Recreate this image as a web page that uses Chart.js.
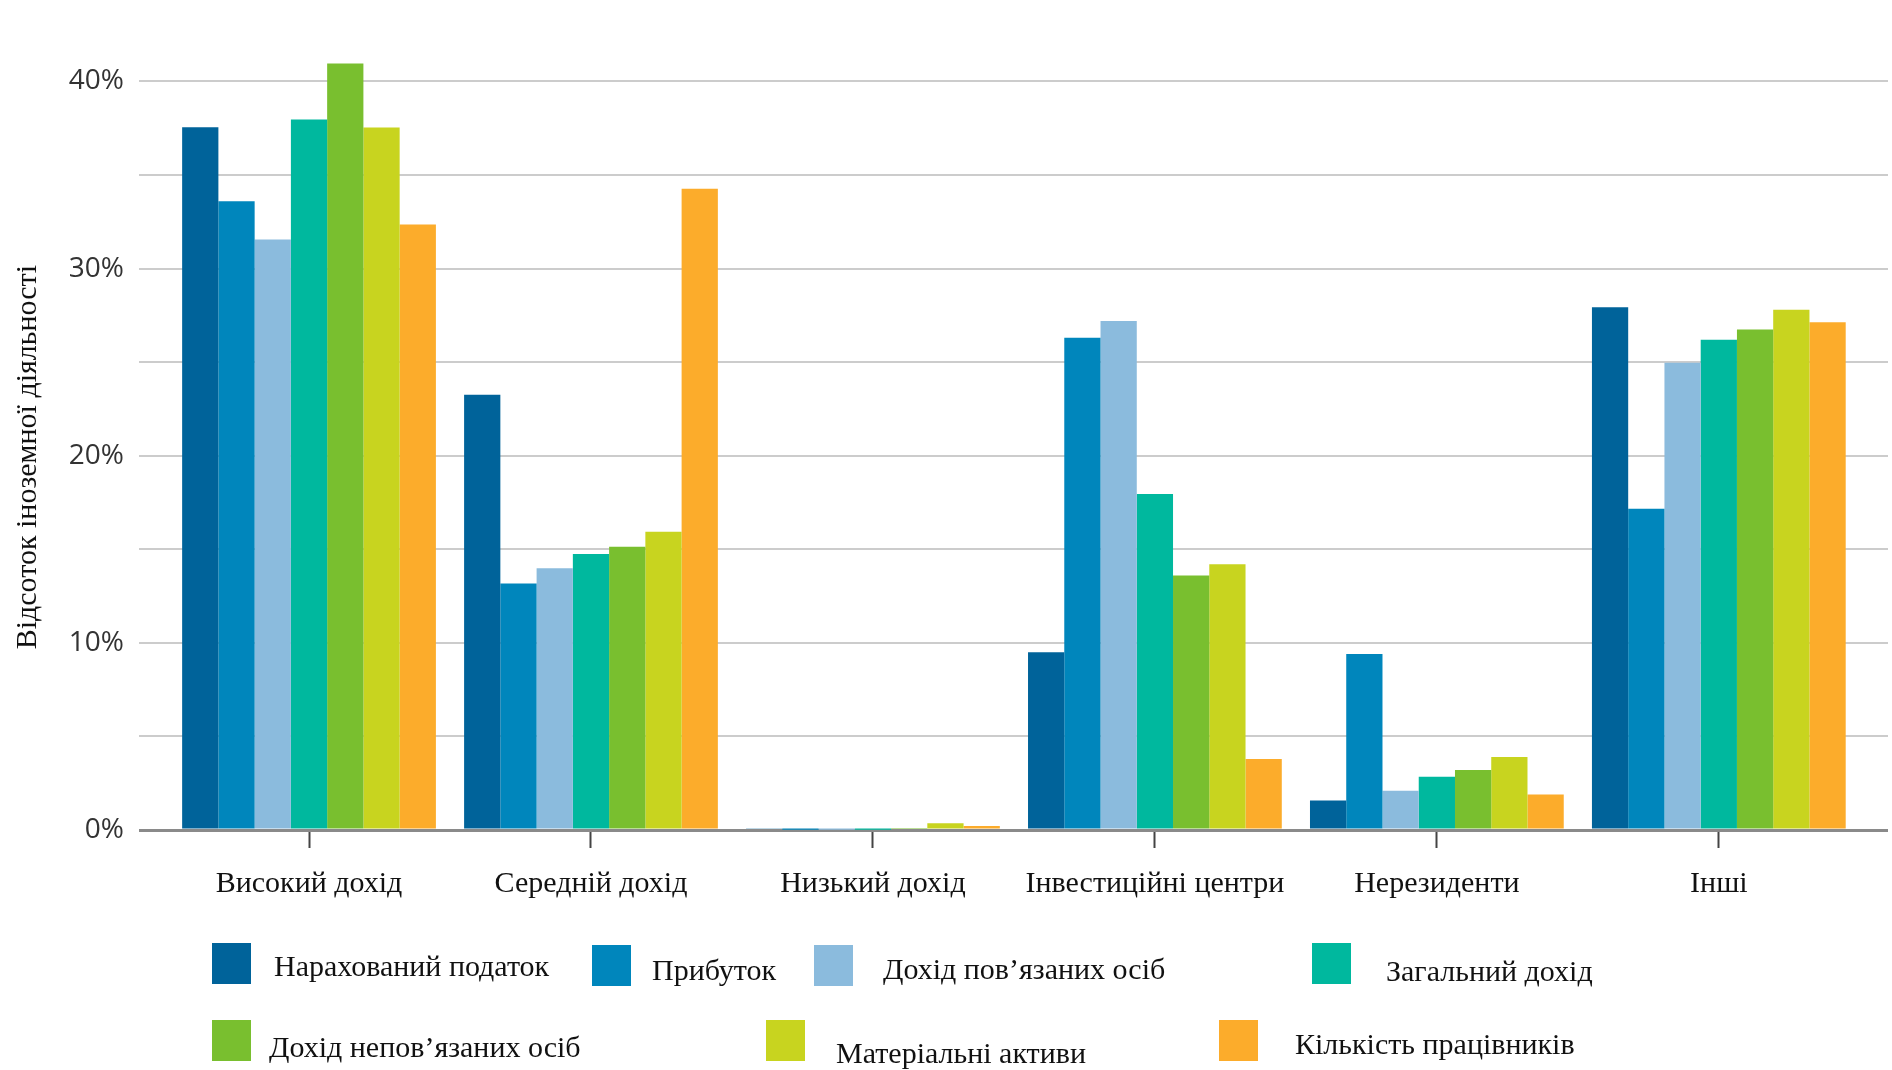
<!DOCTYPE html>
<html>
<head>
<meta charset="utf-8">
<script src="https://cdn.jsdelivr.net/npm/chart.js@4/dist/chart.umd.min.js"></script>
<style>
  html, body { margin: 0; padding: 0; background: #fff; }
  #wrap { position: relative; width: 1892px; height: 1070px; }
  #legend { position: absolute; left: 0; top: 0; width: 0; height: 0; }
  .sw { position: absolute; width: 39px; height: 41px; }
  .lt { position: absolute; font-family: "Liberation Serif", "DejaVu Serif", serif; font-size: 30px;
        color: #111; white-space: nowrap; line-height: 36px; transform: translateY(-50%); }
</style>
</head>
<body>
<div id="wrap">
  <canvas id="chart" width="1892" height="1070"></canvas>
  <div id="legend"></div>
</div>
<script>
const categories = ['Високий дохід', 'Середній дохід', 'Низький дохід', 'Інвестиційні центри', 'Нерезиденти', 'Інші'];
const seriesNames = ['Нарахований податок', 'Прибуток', 'Дохід пов’язаних осіб', 'Загальний дохід',
  'Дохід непов’язаних осіб', 'Матеріальні активи', 'Кількість працівників'];

const taxAccrued      = [37.55, 23.26, 0.09, 9.5, 1.57, 27.93];
const profit          = [33.6, 13.17, 0.02, 26.3, 9.4, 17.16];
const relatedIncome   = [31.55, 13.99, 0.02, 27.2, 2.1, 24.96];
const totalIncome     = [37.96, 14.75, 0.02, 17.96, 2.85, 26.2];
const unrelatedIncome = [40.95, 15.13, 0.05, 13.6, 3.2, 26.74];
const tangibleAssets  = [37.54, 15.94, 0.36, 14.2, 3.9, 27.8];
const employees       = [32.35, 34.27, 0.21, 3.8, 1.9, 27.13];

const yTicks = [0, 5, 10, 15, 20, 25, 30, 35, 40];
const yTitle = 'Відсоток іноземної діяльності';

const seriesValues = [taxAccrued, profit, relatedIncome, totalIncome, unrelatedIncome, tangibleAssets, employees];
const colors = ['#00639a', '#0086bc', '#8bbbdd', '#00b89e', '#79bf2f', '#c8d41f', '#fcac2b'];

// legend placement (as in the scan, items are not evenly spaced)
const legendPos = [
  { sx: 212, sy: 943, tx: 274, ty: 966 },
  { sx: 592, sy: 945, tx: 652, ty: 970 },
  { sx: 814, sy: 945, tx: 883, ty: 969 },
  { sx: 1312, sy: 943, tx: 1386, ty: 971 },
  { sx: 212, sy: 1020, tx: 269, ty: 1047 },
  { sx: 766, sy: 1020, tx: 836, ty: 1053 },
  { sx: 1219, sy: 1020, tx: 1295, ty: 1044 }
];

const datasets = seriesNames.map((name, i) => ({
  label: name,
  data: seriesValues[i].map((v, j) => ({ x: j, y: v })),
  backgroundColor: colors[i],
  borderWidth: 0,
  categoryPercentage: 0.9,
  barPercentage: 1.0
}));

new Chart(document.getElementById('chart'), {
  type: 'bar',
  data: { datasets: datasets },
  options: {
    responsive: false,
    animation: false,
    layout: { padding: { top: 30, right: 4, left: 0, bottom: 0 } },
    plugins: { legend: { display: false }, tooltip: { enabled: false } },
    scales: {
      x: {
        type: 'linear',
        offset: false,
        min: -0.603,
        max: 5.6,
        afterBuildTicks: (scale) => { scale.ticks = categories.map((c, i) => ({ value: i })); },
        afterFit: (scale) => { scale.height = 240; },
        grid: { display: true, offset: false, drawOnChartArea: false, drawTicks: true, tickLength: 18, tickColor: '#444', tickWidth: 2 },
        border: { display: false },
        ticks: {
          padding: 18,
          color: '#111',
          maxRotation: 0,
          autoSkip: false,
          font: { family: '"Liberation Serif", "DejaVu Serif", serif', size: 30 },
          callback: (v) => categories[v]
        }
      },
      y: {
        min: 0,
        max: 42.65,
        afterBuildTicks: (scale) => { scale.ticks = yTicks.map(v => ({ value: v })); },
        afterFit: (scale) => { scale.width = 139; },
        grid: {
          drawTicks: false,
          color: (ctx) => ctx.tick && ctx.tick.value === 0 ? '#8a8a8a' : '#cccccc',
          lineWidth: (ctx) => ctx.tick && ctx.tick.value === 0 ? 3 : 2
        },
        border: { display: false },
        ticks: {
          padding: 15,
          color: '#333',
          font: { family: '"Open Sans", "Liberation Sans", sans-serif', size: 28 },
          callback: (v) => v % 10 === 0 ? v + '%' : ''
        },
        title: {
          display: true,
          // trailing no-break spaces nudge the rotated title down, as in the source
          text: yTitle + '\u00a0'.repeat(7),
          color: '#111',
          padding: { top: 10, bottom: 0 },
          font: { family: '"Liberation Serif", "DejaVu Serif", serif', size: 30 }
        }
      }
    }
  }
});

const legend = document.getElementById('legend');
seriesNames.forEach((name, i) => {
  const p = legendPos[i];
  const sw = document.createElement('div');
  sw.className = 'sw';
  sw.style.left = p.sx + 'px';
  sw.style.top = p.sy + 'px';
  sw.style.background = colors[i];
  const t = document.createElement('div');
  t.className = 'lt';
  t.style.left = p.tx + 'px';
  t.style.top = p.ty + 'px';
  t.textContent = name;
  legend.appendChild(sw);
  legend.appendChild(t);
});
</script>
</body>
</html>
